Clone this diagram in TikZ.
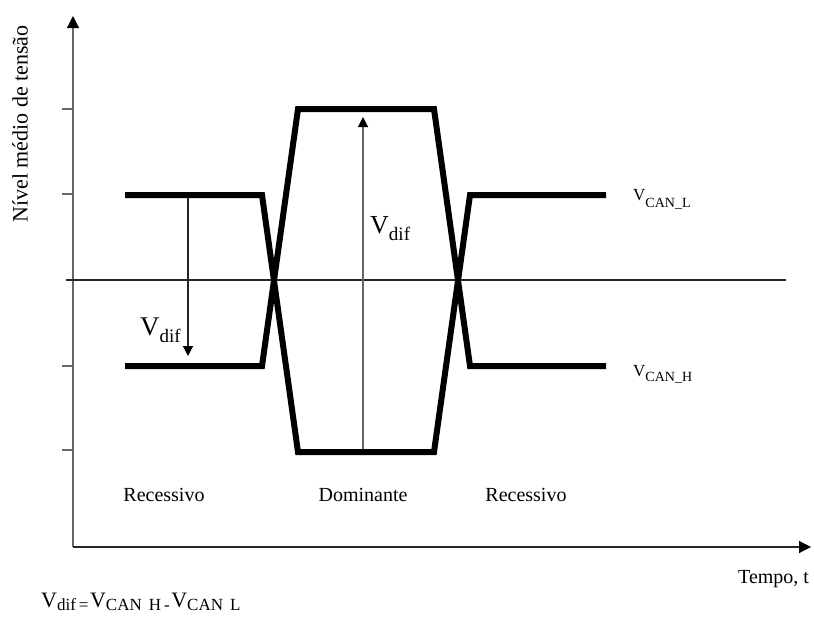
\documentclass[tikz,border=0pt]{standalone}
\usepackage{fontspec}
\setmainfont{Liberation Serif}
\usetikzlibrary{arrows.meta}
\newcommand\fsz[1]{\fontsize{#1}{#1}\selectfont}
\newcommand\vsubtxt[4]{{\fsz{#1}V}\raisebox{-#3pt}{\fsz{#2}#4}}
\begin{document}
\begin{tikzpicture}[x=1pt,y=-1pt,
  sig/.style={line width=6pt, line join=miter},
  thinln/.style={line width=1.2pt, black!85},
  grayln/.style={line width=1.2pt, black!60},
  axisarrow/.style={-{Triangle[length=12pt,width=12pt,color=black,fill=black]}},
  vdarrow/.style={-{Triangle[length=10pt,width=10pt,color=black,fill=black]}},
  lbl/.style={font=\fsz{20}, inner sep=0pt},
  txt/.style={inner sep=0pt, anchor=base west},
]
\useasboundingbox (0,0) rectangle (814,616);
% axes
\coordinate (o) at (73,547);
\coordinate (ytip) at (73,16);
\coordinate (xtip) at (811,547);
\draw[grayln, axisarrow] (o) -- (ytip);
\draw[thinln, axisarrow] (o) -- (xtip);
\foreach \yy in {109,194,366,450}{
  \coordinate (tk\yy a) at (62,\yy);
  \coordinate (tk\yy b) at (73,\yy);
  \draw[grayln] (tk\yy a) -- (tk\yy b);
}
\coordinate (mla) at (66,280);
\coordinate (mlb) at (786,280);
\draw[thinln] (mla) -- (mlb);
% signals
\coordinate (l1) at (125,195); \coordinate (l2) at (262,195);
\coordinate (l3) at (298,452); \coordinate (l4) at (434,452);
\coordinate (l5) at (470,195); \coordinate (l6) at (606,195);
\coordinate (h1) at (125,366); \coordinate (h2) at (262,366);
\coordinate (h3) at (298,109); \coordinate (h4) at (434,109);
\coordinate (h5) at (470,366); \coordinate (h6) at (606,366);
\draw[sig] (l1) -- (l2) -- (l3) -- (l4) -- (l5) -- (l6);
\draw[sig] (h1) -- (h2) -- (h3) -- (h4) -- (h5) -- (h6);
% Vdif arrows
\coordinate (a1s) at (188,198); \coordinate (a1e) at (188,356);
\draw[thinln, vdarrow] (a1s) -- (a1e);
\coordinate (a2s) at (363,449); \coordinate (a2e) at (363,117);
\draw[grayln, vdarrow] (a2s) -- (a2e);
% labels
\node[txt] (vdifl) at (140,335) {\vsubtxt{27}{19}{7}{dif}};
\node[txt] (vdifm) at (370,233) {\vsubtxt{26}{19}{7}{dif}};
\node[txt] (vcanl) at (633,200) {\vsubtxt{17}{14}{7}{CAN\_L}};
\node[txt] (vcanh) at (633,376) {\vsubtxt{17}{14}{5}{CAN\_H}};
\node[lbl] (rec1) at (164,495) {Recessivo};
\node[lbl] (dom) at (363,495) {Dominante};
\node[lbl] (rec2) at (526,495) {Recessivo};
\node[lbl, anchor=base west] (tempo) at (738,583) {Tempo, t};
\node[lbl, font=\fsz{22}, rotate=90] (nivel) at (20,124) {Nível médio de tensão};
\node[txt] (form) at (41,607) {\vsubtxt{22}{17}{3}{dif\,=}\,\vsubtxt{22}{17}{3}{CAN\ \,H\,-}\,\vsubtxt{22}{17}{3}{CAN\ \,L}};
\end{tikzpicture}
\end{document}
